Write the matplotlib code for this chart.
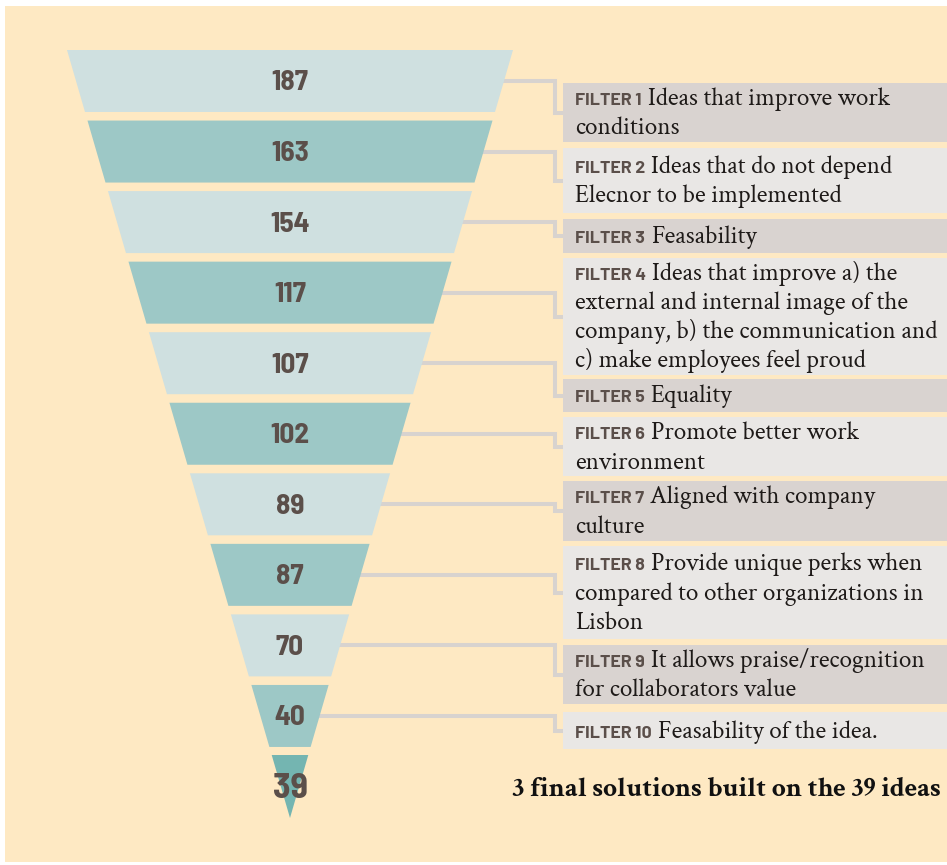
import matplotlib
matplotlib.use("Agg")
import matplotlib.pyplot as plt
from matplotlib.patches import Polygon, Rectangle
from matplotlib.lines import Line2D

# ---------------- data ----------------
values = [187, 163, 154, 117, 107, 102, 89, 87, 70, 40, 39]
filter_names = ["FILTER 1", "FILTER 2", "FILTER 3", "FILTER 4", "FILTER 5",
                "FILTER 6", "FILTER 7", "FILTER 8", "FILTER 9", "FILTER 10"]
descriptions = [
    "Ideas that improve work\nconditions",
    "Ideas that do not depend\nElecnor to be implemented",
    "Feasability",
    "Ideas that improve a) the\nexternal and internal image of the\ncompany, b) the communication and\nc) make employees feel proud",
    "Equality",
    "Promote better work\nenvironment",
    "Aligned with company\nculture",
    "Provide unique perks when\ncompared to other organizations in\nLisbon",
    "It allows praise/recognition\nfor collaborators value",
    "Feasability of the idea.",
]
final_text = "3 final solutions built on the 39 ideas"

# ---------------- style ----------------
BG = "#fee9c3"
LIGHT = "#cfe0e0"
DARK = "#9dc8c6"
TIP = "#74b5b1"
NUM_COLOR = "#5b4f4a"
LINE_COLOR = "#d8d3cf"
BOX_ODD = "#d9d3d0"
BOX_EVEN = "#e9e7e5"
NUM_FONT = ["Barlow Semi Condensed", "Barlow Condensed", "DejaVu Sans"]
LABEL_FONT = ["Barlow", "Barlow Semi Condensed", "DejaVu Sans"]
SERIF = ["Crimson Text", "Liberation Serif", "DejaVu Serif"]

W, H = 947, 865
fig = plt.figure(figsize=(W / 100, H / 100), dpi=100, facecolor="white")
ax = fig.add_axes([0, 0, 1, 1])
ax.set_xlim(0, W)
ax.set_ylim(H, 0)
ax.axis("off")

ax.add_patch(Rectangle((5, 6), W - 5, 856, facecolor=BG, edgecolor="none", zorder=0))

# funnel geometry
top_y, tip_y = 50, 818
left_top, right_top, tip_x = 67, 513, 290


def left_x(y):
    return left_top + (tip_x - left_top) * (y - top_y) / (tip_y - top_y)


def right_x(y):
    return right_top - (right_top - tip_x) * (y - top_y) / (tip_y - top_y)


pitch = 70.55
row_h = 62
n_rows = len(values) - 1

# box layout (tops / bottoms)
box_tops = [83, 148, 219, 258, 379, 417, 481, 546, 645, 712]
box_bots = [142, 213, 253, 375, 412, 476, 541, 639, 704, 749]
box_x0 = 563
text_x = 575
line_sp = 29.3
fs_desc = 18.2

fig.canvas.draw()
renderer = fig.canvas.get_renderer()

for i in range(n_rows):
    y0 = top_y + pitch * i
    y1 = y0 + row_h
    col = LIGHT if i % 2 == 0 else DARK
    poly = Polygon([(left_x(y0), y0), (right_x(y0), y0), (right_x(y1), y1), (left_x(y1), y1)],
                   closed=True, facecolor=col, edgecolor="none", zorder=3)
    ax.add_patch(poly)
    yc = y0 + row_h / 2
    ax.text(tip_x, yc + 2, str(values[i]), ha="center", va="center", fontsize=21,
            fontweight="bold", color=NUM_COLOR, family=NUM_FONT, zorder=5)

    # box
    bt, bb = box_tops[i], box_bots[i]
    ax.add_patch(Rectangle((box_x0, bt), W - box_x0, bb - bt,
                           facecolor=BOX_ODD if i % 2 == 0 else BOX_EVEN,
                           edgecolor="none", zorder=2))
    bc = (bt + bb) / 2
    # connector
    ax.add_line(Line2D([tip_x, 555, 555, box_x0], [yc, yc, bc, bc], color=LINE_COLOR,
                       lw=2.9, solid_joinstyle="miter", zorder=1))

    # text
    lines = descriptions[i].split("\n")
    nl = len(lines)
    first_c = bc + 1 - line_sp * (nl - 1) / 2
    for k, ln in enumerate(lines):
        base = first_c + line_sp * k + 6
        if k == 0:
            t = ax.text(text_x, base, filter_names[i], ha="left", va="baseline",
                        fontsize=12.8, fontweight="bold", color=NUM_COLOR, family=LABEL_FONT, zorder=5)
            bb_ = t.get_window_extent(renderer=renderer)
            x_next = text_x + bb_.width + 6
            ax.text(x_next, base, ln, ha="left", va="baseline", fontsize=fs_desc,
                    color="#1e1a18", family=SERIF, zorder=5)
        else:
            ax.text(text_x, base, ln, ha="left", va="baseline", fontsize=fs_desc,
                    color="#1e1a18", family=SERIF, zorder=5)

# final triangle
ty0 = top_y + pitch * n_rows - 0.5
ax.add_patch(Polygon([(left_x(ty0), ty0), (right_x(ty0), ty0), (tip_x, tip_y)], closed=True,
                     facecolor=TIP, edgecolor="none", zorder=3))
ax.text(tip_x, 789, str(values[-1]), ha="center", va="center", fontsize=26,
        fontweight="bold", color=NUM_COLOR, family=NUM_FONT, zorder=5)

ax.text(941, 796, final_text, ha="right", va="baseline", fontsize=19.8, fontweight="bold",
        color="#111111", family=SERIF, zorder=5)

fig.savefig("out.png", dpi=100, facecolor="white")
